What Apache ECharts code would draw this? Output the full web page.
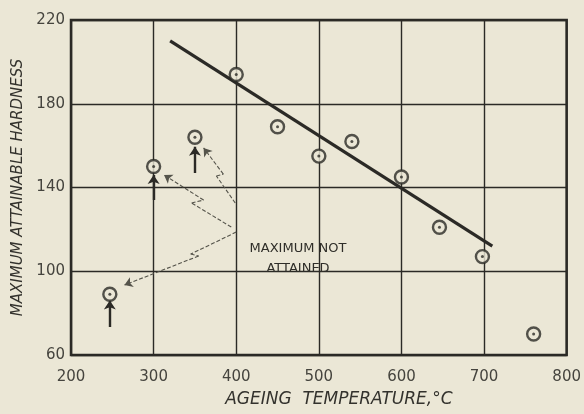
<!DOCTYPE html>
<html><head><meta charset="utf-8">
<script src="https://cdn.jsdelivr.net/npm/echarts@6/dist/echarts.min.js"></script>
<style>html,body{margin:0;padding:0;background:#ebe7d6;}#c{width:584px;height:414px;}</style>
</head><body><div id="c"></div>
<script>
// Data
const xTicks = [200, 300, 400, 500, 600, 700, 800];
const yTicks = [60, 100, 140, 180, 220];
const points = [[247, 89], [300, 150], [350, 164], [400, 194], [450, 169], [500, 155], [540, 162], [600, 145], [646, 121], [698, 107], [760, 70]];
const trendLine = [[320, 210], [710, 112]];
// Upward arrows under points where the maximum was not attained
const upArrows = [
  [[247, 73.4], [247, 86]],
  [[300, 134], [300, 146]],
  [[350, 146.9], [350, 159.5]]
];
// Dashed zig-zag pointer arrows from the annotation
const pointerArrows = [
  [[398.8, 132.6], [376, 145.5], [384.4, 146.4], [360.5, 158.9]],
  [[394, 121.1], [346, 132.6], [360.5, 134], [312.6, 146]],
  [[400, 118.7], [344.9, 108.2], [354.5, 107.3], [264.7, 93.4]]
];
const noteText = 'MAXIMUM NOT\nATTAINED';
const xName = 'AGEING  TEMPERATURE,°C';
const yName = 'MAXIMUM ATTAINABLE HARDNESS';

const ink = '#2b2a26';
const bodySegs = [], headSegs = [];
pointerArrows.forEach(a => {
  for (let i = 0; i < a.length - 1; i++) {
    (i === a.length - 2 ? headSegs : bodySegs).push({coords: [a[i], a[i + 1]]});
  }
});
const dashStyle = {color: '#55544b', width: 1.1, type: [4, 2], opacity: 1};

const chart = echarts.init(document.getElementById('c'));
chart.setOption({
  backgroundColor: '#ebe7d6',
  animation: false,
  grid: {left: 71, right: 12, top: 20, bottom: 59, show: true, borderColor: ink, borderWidth: 2.5, backgroundColor: 'transparent'},
  xAxis: {
    type: 'value', min: 200, max: 800, interval: 100,
    name: xName, nameLocation: 'middle', nameGap: 36,
    nameTextStyle: {fontFamily: 'DejaVu Sans', fontStyle: 'italic', fontSize: 17, color: '#33322d', padding: [0, 0, 0, 40]},
    axisLine: {show: false}, axisTick: {show: false},
    axisLabel: {fontFamily: 'DejaVu Sans', fontSize: 15, color: '#45443e', margin: 15,
      formatter: v => xTicks.includes(v) ? String(v) : ''},
    splitLine: {show: true, lineStyle: {color: ink, width: 1.4}}
  },
  yAxis: {
    type: 'value', min: 60, max: 220, interval: 40,
    name: yName, nameLocation: 'middle', nameGap: 45,
    nameTextStyle: {fontFamily: 'DejaVu Sans', fontStyle: 'italic', fontSize: 15, color: '#33322d'},
    axisLine: {show: false}, axisTick: {show: false},
    axisLabel: {fontFamily: 'DejaVu Sans', fontSize: 15, color: '#45443e', margin: 6,
      formatter: v => yTicks.includes(v) ? String(v) : ''},
    splitLine: {show: true, lineStyle: {color: ink, width: 1.4}}
  },
  series: [
    {type: 'line', data: trendLine, symbol: 'none', lineStyle: {color: ink, width: 3.2}, z: 3},
    {type: 'lines', coordinateSystem: 'cartesian2d',
      data: upArrows.map(c => ({coords: c})),
      symbol: ['none', 'arrow'], symbolSize: 9,
      lineStyle: {color: ink, width: 2.4, opacity: 1}, z: 4},
    {type: 'lines', coordinateSystem: 'cartesian2d',
      data: bodySegs, symbol: 'none', lineStyle: dashStyle, z: 4},
    {type: 'lines', coordinateSystem: 'cartesian2d',
      data: headSegs, symbol: ['none', 'arrow'], symbolSize: 8, lineStyle: dashStyle, z: 4},
    {type: 'scatter', data: points, symbol: 'circle', symbolSize: 13,
      itemStyle: {color: '#ebe7d6', borderColor: ink, borderWidth: 2.4}, z: 5},
    {type: 'scatter', data: points, symbol: 'circle', symbolSize: 3,
      itemStyle: {color: ink}, z: 6}
  ],
  graphic: [{
    type: 'text', x: 298, y: 239, z: 10,
    style: {text: noteText, align: 'center', verticalAlign: 'top', fontFamily: 'DejaVu Sans', fontSize: 13, lineHeight: 20, fill: '#2f2e29'}
  }]
});
</script></body></html>
